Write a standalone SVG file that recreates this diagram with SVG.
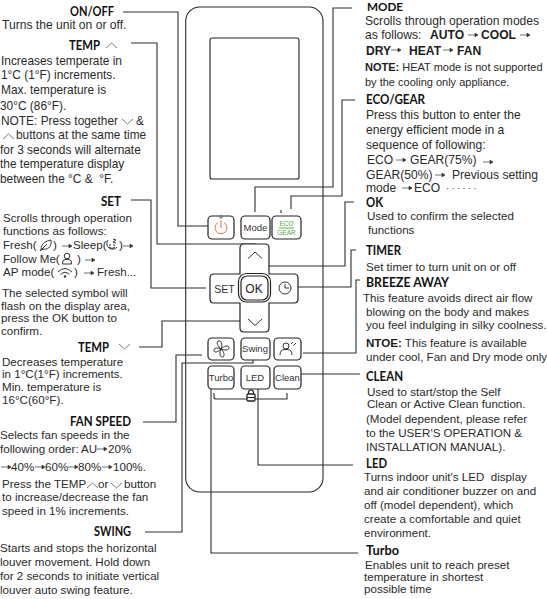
<svg xmlns="http://www.w3.org/2000/svg" xmlns:xlink="http://www.w3.org/1999/xlink" width="547" height="599" viewBox="0 0 547 599">
<style>
text{font-family:"Liberation Sans",Arial,sans-serif;font-size:11.6px;fill:#2a2a2a;white-space:pre}
.h{font-family:Lato,"Liberation Sans",sans-serif;font-weight:700;font-size:12.8px;fill:#111}
.b{font-weight:700;fill:#1c1c1c}
.n{font-size:11px}
#onoff text.t,#mode text.t,#ecogear text.t{font-size:12.1px}
#tempup text.t{font-size:11.9px}
.btn{fill:#fff;stroke:#222;stroke-width:1.2}
.bt{font-size:9.5px;fill:#333;text-anchor:middle}
.ic{fill:none;stroke:#333;stroke-width:1}
.ln{fill:none;stroke:#2e2e2e;stroke-width:1.1}
</style>
<defs>
<path id="ar" d="M0 0H7.5M7 -1.8L10 0L7 1.8Z" fill="#333" stroke="#333" stroke-width=".7"/>
<path id="cu" d="M0 5L5.500 0L11 5" fill="none" stroke="#555" stroke-width=".8"/>
<path id="cd" d="M0 0L5.500 5L11 0" fill="none" stroke="#555" stroke-width=".8"/>
</defs>

<g id="remote">
<rect x="185.700" y="7" width="137.300" height="485" rx="14" fill="#fff" stroke="#2a2a2a" stroke-width="1.100"/>
<rect x="210" y="38" width="89" height="141" rx="2" fill="#fff" stroke="#222" stroke-width="1.100"/>
<path class="ln" d="M214 393V397Q214 399 216 399H287V393M281 210V213"/>
</g>

<g id="connectors">
<path class="ln" d="M123 12H178V226H208"/>
<path class="ln" d="M131 43H157V244H255V252"/>
<path class="ln" d="M131 200H151V288H206"/>
<path class="ln" d="M139 347H162V321H244"/>
<path class="ln" d="M143 422H176V355H202"/>
<path class="ln" d="M145 532H182V363H253V359"/>
<path class="ln" d="M352 8H333V187H255V212"/>
<path class="ln" d="M355 100H342V196H291V209"/>
<path class="ln" d="M354 202H345V266H268"/>
<path class="ln" d="M356 250H351V287H295"/>
<path class="ln" d="M360 280H356V353H303"/>
<path class="ln" d="M360 374H287"/>
<path class="ln" d="M258 389V465H353"/>
<path class="ln" d="M211 389V553H358"/>
</g>

<g id="btn-power">
<rect class="btn" x="208" y="216" width="26" height="23" rx="4"/>
<path d="M218 222.500A6 6 0 1 0 224 222.500M221 220V228" fill="none" stroke="#e0603f" stroke-width=".9"/>
<circle cx="221" cy="217" r="1.200" fill="#fff" stroke="#333" stroke-width=".8"/>
</g>
<g id="btn-mode">
<rect class="btn" x="241" y="216" width="29" height="23" rx="4"/>
<text class="bt" x="255.500" y="231">Mode</text>
</g>
<g id="btn-eco">
<rect class="btn" x="272" y="216" width="29" height="23" rx="4"/>
<text x="286.500" y="226" style="font-size:6.500px;fill:#4ea83e;text-anchor:middle">ECO</text>
<path d="M279 228H294" stroke="#4ea83e" stroke-width=".9"/>
<text x="286.500" y="234.500" style="font-size:6.500px;fill:#4ea83e;text-anchor:middle">GEAR</text>
</g>
<g id="btn-dpad">
<path class="btn" d="M244 244H265Q269 244 269 248V274H294Q298 274 298 278V299Q298 303 294 303H269V328Q269 332 265 332H244Q240 332 240 328V303H214Q210 303 210 299V278Q210 274 214 274H240V248Q240 244 244 244Z"/>
<path d="M248 258.500L255 252L262 258.500M248 319L255 325.500L262 319" fill="none" stroke="#333" stroke-width="1"/>
<text x="224.500" y="292.500" style="font-size:10.500px;fill:#333;text-anchor:middle">SET</text>
<circle class="ic" cx="285" cy="288" r="6"/>
<path class="ic" d="M285 284V288H289"/>
</g>
<g id="btn-ok">
<rect class="btn" x="238.500" y="273.500" width="32" height="28.500" rx="8"/>
<rect class="btn" x="241" y="276" width="27" height="24" rx="6"/>
<text x="254" y="293" style="font-size:12px;fill:#222;text-anchor:middle">OK</text>
</g>
<g id="btn-fan">
<rect class="btn" x="208" y="338" width="26" height="22" rx="4"/>
<path class="ic" d="M221 349C218 346 216 343 218 341C221 340 223 344 221 349ZM221 349C224 346 228 345 229 347C230 350 225 351 221 349ZM221 349C224 352 225 355 223 357C220 358 219 353 221 349ZM221 349C218 352 215 353 214 351C213 348 218 347 221 349Z"/>
</g>
<g id="btn-swing">
<rect class="btn" x="241" y="338" width="29" height="22" rx="4"/>
<text class="bt" x="255" y="352">Swing</text>
</g>
<g id="btn-breeze">
<rect class="btn" x="274" y="338" width="27" height="22" rx="4"/>
<circle class="ic" cx="286" cy="346" r="3"/>
<path class="ic" d="M280 355Q280 350 284 349.500H288Q292 350 292 355M291 344L293 342M293.500 345.500L296 343"/>
</g>
<g id="btn-turbo">
<rect class="btn" x="208" y="366" width="26" height="23" rx="4"/>
<text class="bt" x="221" y="381">Turbo</text>
</g>
<g id="btn-led">
<rect class="btn" x="241" y="366" width="29" height="23" rx="4"/>
<text class="bt" x="255" y="381">LED</text>
</g>
<g id="btn-clean">
<rect class="btn" x="274" y="366" width="27" height="23" rx="4"/>
<text class="bt" x="287.500" y="381">Clean</text>
</g>
<g id="lock">
<rect x="247" y="394" width="8" height="7" rx="1" fill="#fff" stroke="#222" stroke-width="1.300"/>
<path d="M248.500 394V392.500A2.500 2.500 0 0 1 253.500 392.500V394M247 397.500H255" fill="none" stroke="#222" stroke-width="1.200"/>
</g>

<g id="onoff">
<text class="h" x="70" y="16" textLength="44" lengthAdjust="spacingAndGlyphs">ON/OFF</text>
<text class="t" x="2" y="28.500">Turns the unit on or off.</text>
</g>
<g id="tempup">
<text class="h" x="69" y="50" textLength="31" lengthAdjust="spacingAndGlyphs">TEMP</text>
<use xlink:href="#cu" href="#cu" x="106" y="43"/>
<text class="t" x="1" y="65">Increases temperate in</text>
<text class="t" x="1" y="79">1°C (1°F) increments.</text>
<text class="t" x="1" y="94">Max. temperature is</text>
<text class="t" x="0" y="110">30°C (86°F).</text>
<text class="t" x="1" y="125">NOTE: Press together</text>
<use xlink:href="#cd" href="#cd" x="122" y="119"/>
<text class="t" x="136" y="125">&amp;</text>
<use xlink:href="#cu" href="#cu" x="3" y="134"/>
<text class="t" x="16" y="139">buttons at the same time</text>
<text class="t" x="0" y="154">for 3 seconds will alternate</text>
<text class="t" x="0" y="168">the temperature display</text>
<text class="t" x="0" y="183">between the °C &amp;  °F.</text>
</g>
<g id="set">
<text class="h" x="101" y="206" textLength="20" lengthAdjust="spacingAndGlyphs">SET</text>
<text x="3" y="222">Scrolls through operation</text>
<text x="3" y="235">functions as follows:</text>
<text x="3" y="249">Fresh(</text>
<path class="ic" d="M41 250C41 243 46 241 51 240C52 245 49 250 44 249ZM40 251L47 244"/>
<text x="53" y="249">)</text>
<use xlink:href="#ar" href="#ar" x="62" y="246"/>
<text x="73" y="249">Sleep(</text>
<path class="ic" d="M108 240A5.500 5.500 0 1 0 117 247M109 245H111M113 245H115M109 247Q112 250 115 247M113 239L116 240L113 242L116 243"/>
<text x="119" y="249">)</text>
<use xlink:href="#ar" href="#ar" x="123" y="246"/>
<text x="3" y="263">Follow Me(</text>
<circle class="ic" cx="67" cy="256" r="2.800"/>
<path class="ic" d="M62.500 264Q62 260 65 259.500H69Q72 260 71.500 264Z"/>
<text x="77" y="263">)</text>
<use xlink:href="#ar" href="#ar" x="85" y="260"/>
<text x="3" y="276">AP mode(</text>
<path class="ic" d="M58 272Q65 265 72 272M60.500 274.500Q65 270 69.500 274.500"/>
<circle cx="65" cy="276.500" r="1.200" fill="#333"/>
<text x="74" y="276">)</text>
<use xlink:href="#ar" href="#ar" x="84" y="273"/>
<text x="97" y="276">Fresh...</text>
<text x="2" y="297">The selected symbol will</text>
<text x="1" y="310">flash on the display area,</text>
<text x="1" y="322">press the OK button to</text>
<text x="1" y="335">confirm.</text>
</g>
<g id="tempdown">
<text class="h" x="78" y="352" textLength="31" lengthAdjust="spacingAndGlyphs">TEMP</text>
<use xlink:href="#cd" href="#cd" x="119" y="344"/>
<text x="2" y="366">Decreases temperature</text>
<text x="2" y="378">in 1°C(1°F) increments.</text>
<text x="2" y="391">Min. temperature is</text>
<text x="2" y="404">16°C(60°F).</text>
</g>
<g id="fanspeed">
<text class="h" x="70" y="426" textLength="61" lengthAdjust="spacingAndGlyphs">FAN SPEED</text>
<text x="0" y="439">Selects fan speeds in the</text>
<text x="0" y="453">following order:</text>
<text x="81" y="453">AU</text>
<use xlink:href="#ar" href="#ar" x="97" y="449"/>
<text x="108" y="453">20%</text>
<use xlink:href="#ar" href="#ar" x="1" y="467"/>
<text x="11" y="471">40%</text>
<use xlink:href="#ar" href="#ar" x="35" y="467"/>
<text x="45" y="471">60%</text>
<use xlink:href="#ar" href="#ar" x="68" y="467"/>
<text x="78" y="471">80%</text>
<use xlink:href="#ar" href="#ar" x="102" y="467"/>
<text x="113" y="471">100%.</text>
<text x="2" y="488">Press the TEMP</text>
<use xlink:href="#cu" href="#cu" x="87" y="483"/>
<text x="98" y="488">or</text>
<use xlink:href="#cd" href="#cd" x="111" y="483"/>
<text x="124" y="488">button</text>
<text x="2" y="501">to increase/decrease the fan</text>
<text x="2" y="515">speed in 1% increments.</text>
</g>
<g id="swing">
<text class="h" x="94" y="536" textLength="37" lengthAdjust="spacingAndGlyphs">SWING</text>
<text x="0" y="552">Starts and stops the horizontal</text>
<text x="0" y="566">louver movement. Hold down</text>
<text x="0" y="580">for 2 seconds to initiate vertical</text>
<text x="0" y="594">louver auto swing feature.</text>
</g>
<g id="mode">
<text class="h" x="367" y="11" style="font-size:12px" textLength="36" lengthAdjust="spacingAndGlyphs">MODE</text>
<text class="t" x="365" y="25">Scrolls through operation modes</text>
<text class="t" x="365" y="39">as follows:</text>
<text class="b t" x="430" y="39">AUTO</text>
<use xlink:href="#ar" href="#ar" x="468" y="35"/>
<text class="b t" x="481" y="39">COOL</text>
<use xlink:href="#ar" href="#ar" x="520" y="35"/>
<text class="b t" x="366" y="55">DRY</text>
<use xlink:href="#ar" href="#ar" x="391" y="50"/>
<text class="b t" x="409" y="55">HEAT</text>
<use xlink:href="#ar" href="#ar" x="443" y="50"/>
<text class="b t" x="457" y="55">FAN</text>
<text class="n" x="365" y="71"><tspan class="b">NOTE:</tspan> HEAT mode is not supported</text>
<text class="n" x="365" y="86">by the cooling only appliance.</text>
</g>
<g id="ecogear">
<text class="h" x="366" y="104" textLength="59" lengthAdjust="spacingAndGlyphs">ECO/GEAR</text>
<text class="t" x="366" y="119">Press this button to enter the</text>
<text class="t" x="366" y="134">energy efficient mode in a</text>
<text class="t" x="366" y="149">sequence of following:</text>
<text class="t" x="367" y="164">ECO</text>
<use xlink:href="#ar" href="#ar" x="396" y="160"/>
<text class="t" x="410" y="164">GEAR(75%)</text>
<use xlink:href="#ar" href="#ar" x="483" y="162"/>
<text class="t" x="366" y="179">GEAR(50%)</text>
<use xlink:href="#ar" href="#ar" x="435" y="175"/>
<text class="t" x="452" y="179">Previous setting</text>
<text class="t" x="366" y="192">mode</text>
<use xlink:href="#ar" href="#ar" x="402" y="188"/>
<text class="t" x="414" y="192">ECO</text>
<text x="446" y="191" style="font-size:9px;letter-spacing:2.500px">······</text>
</g>
<g id="ok">
<text class="h" x="366" y="207" textLength="17" lengthAdjust="spacingAndGlyphs">OK</text>
<text x="367" y="220">Used to confirm the selected</text>
<text x="368" y="234">functions</text>
</g>
<g id="timer">
<text class="h" x="366" y="255" textLength="35" lengthAdjust="spacingAndGlyphs">TIMER</text>
<text x="366" y="271">Set timer to turn unit on or off</text>
</g>
<g id="breeze">
<text class="h" x="366" y="287" textLength="83" lengthAdjust="spacingAndGlyphs">BREEZE AWAY</text>
<text x="363" y="302">This feature avoids direct air flow</text>
<text x="366" y="316">blowing on the body and makes</text>
<text x="366" y="329">you feel indulging in silky coolness.</text>
<text x="366" y="347"><tspan class="b">NTOE:</tspan> This feature is available</text>
<text x="366" y="361">under cool, Fan and Dry mode only</text>
</g>
<g id="clean">
<text class="h" x="366" y="381" textLength="37" lengthAdjust="spacingAndGlyphs">CLEAN</text>
<text x="367" y="396">Used to start/stop the Self</text>
<text x="367" y="408">Clean or Active Clean function.</text>
<text x="366" y="423">(Model dependent, please refer</text>
<text x="366" y="437">to the USER'S OPERATION &amp;</text>
<text x="366" y="451">INSTALLATION MANUAL).</text>
</g>
<g id="led">
<text class="h" x="366" y="468" textLength="21" lengthAdjust="spacingAndGlyphs">LED</text>
<text x="364" y="481">Turns indoor unit's LED  display</text>
<text x="364" y="495">and air conditioner buzzer on and</text>
<text x="364" y="509">off (model dependent), which</text>
<text x="364" y="523">create a comfortable and quiet</text>
<text x="364" y="537">environment.</text>
</g>
<g id="turbo">
<text class="h" x="366" y="555" textLength="33" lengthAdjust="spacingAndGlyphs">Turbo</text>
<text x="365" y="569">Enables unit to reach preset</text>
<text x="364" y="581">temperature in shortest</text>
<text x="364" y="593">possible time</text>
</g>
</svg>
